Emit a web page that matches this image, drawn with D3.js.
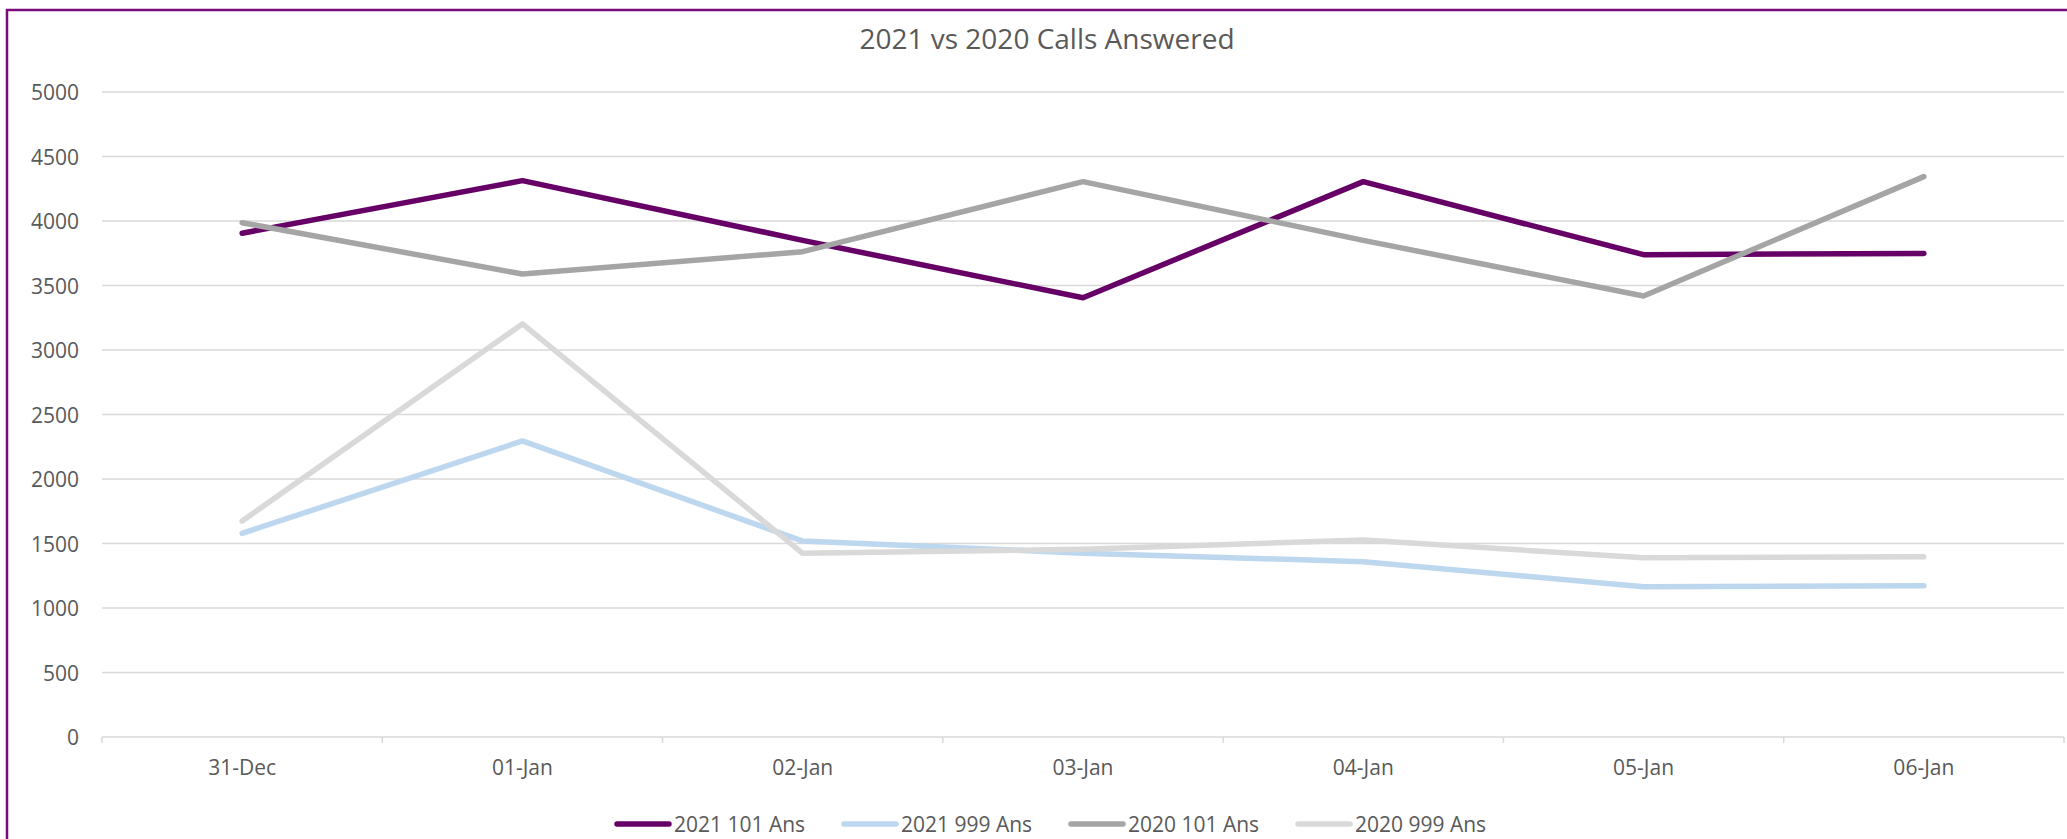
<!DOCTYPE html>
<html>
<head>
<meta charset="utf-8">
<script src="https://cdn.jsdelivr.net/npm/d3@7"></script>
<style>
  html, body { margin: 0; padding: 0; background: #ffffff; overflow: hidden; }
  svg { display: block; }
  text { font-family: "Open Sans", sans-serif; fill: #595959; }
</style>
</head>
<body>
<svg id="chart" width="2067" height="839"></svg>
<script>
const categories = ["31-Dec", "01-Jan", "02-Jan", "03-Jan", "04-Jan", "05-Jan", "06-Jan"];
const seriesNames = ["2021 101 Ans", "2021 999 Ans", "2020 101 Ans", "2020 999 Ans"];
const s2021_101 = [3905, 4313, 3850, 3405, 4305, 3739, 3749];
const s2021_999 = [1579, 2295, 1519, 1425, 1359, 1165, 1173];
const s2020_101 = [3987, 3589, 3762, 4305, 3850, 3419, 4344];
const s2020_999 = [1674, 3202, 1424, 1455, 1527, 1390, 1398];
const yTicks = [0, 500, 1000, 1500, 2000, 2500, 3000, 3500, 4000, 4500, 5000];
const colors = ["#660066", "#BDD7EE", "#A5A5A5", "#D9D9D9"];
const title = "2021 vs 2020 Calls Answered";

const seriesValues = [s2021_101, s2021_999, s2020_101, s2020_999];
const svg = d3.select("#chart");

// outer border
svg.append("rect")
  .attr("x", 7).attr("y", 10)
  .attr("width", 2200).attr("height", 1000)
  .attr("fill", "#ffffff")
  .attr("stroke", "#7a0a7a").attr("stroke-width", 2.5);

const plotLeft = 102, plotRight = 2064, plotTop = 92, plotBottom = 737;

const x = d3.scaleBand().domain(categories).range([plotLeft, plotRight]).padding(0);
const y = d3.scaleLinear().domain([0, 5000]).range([plotBottom, plotTop]);

// gridlines
svg.append("g").selectAll("line").data(yTicks.filter(d => d > 0)).join("line")
  .attr("x1", plotLeft).attr("x2", plotRight)
  .attr("y1", d => y(d)).attr("y2", d => y(d))
  .attr("stroke", "#D9D9D9").attr("stroke-width", 1.5);

// y axis labels
const yAxis = d3.axisLeft(y).tickValues(yTicks).tickSize(0).tickPadding(0).tickFormat(d3.format("d"));
const yg = svg.append("g").attr("transform", `translate(79,0)`).call(yAxis);
yg.select(".domain").remove();
yg.selectAll("text").style("font-size", "21px").attr("fill", "#595959")
  .style("font-family", "'Open Sans', sans-serif").attr("dy", "0.36em");

// x axis
const xAxis = d3.axisBottom(x).tickSize(0).tickPadding(0);
const xg = svg.append("g").attr("transform", `translate(0,${plotBottom})`).call(xAxis);
xg.select(".domain").attr("stroke", "#D9D9D9").attr("stroke-width", 1.5)
  .attr("d", `M${plotLeft},0H${plotRight}`);
xg.selectAll("text").style("font-size", "21px").attr("fill", "#595959")
  .style("font-family", "'Open Sans', sans-serif").attr("y", 38).attr("dy", 0);
const bounds = categories.map(c => x(c)).concat([x(categories[categories.length - 1]) + x.bandwidth()]);
xg.append("g").selectAll("line").data(bounds).join("line")
  .attr("x1", d => d).attr("x2", d => d)
  .attr("y1", 0).attr("y2", 6)
  .attr("stroke", "#D9D9D9").attr("stroke-width", 1.5);

// lines
const line = d3.line()
  .x((d, i) => x(categories[i]) + x.bandwidth() / 2)
  .y(d => y(d));

seriesValues.forEach((vals, k) => {
  svg.append("path")
    .datum(vals)
    .attr("d", line)
    .attr("fill", "none")
    .attr("stroke", colors[k])
    .attr("stroke-width", 5.5)
    .attr("stroke-linecap", "round")
    .attr("stroke-linejoin", "round");
});

// title
svg.append("text")
  .attr("x", 1047).attr("y", 49)
  .attr("text-anchor", "middle")
  .style("font-size", "28px")
  .text(title);

// legend
const legendX0 = 615, legendStep = 227, legendY = 824;
const lg = svg.append("g");
seriesNames.forEach((name, k) => {
  const gx = legendX0 + k * legendStep;
  lg.append("line")
    .attr("x1", gx + 2).attr("x2", gx + 54)
    .attr("y1", legendY).attr("y2", legendY)
    .attr("stroke", colors[k]).attr("stroke-width", 5.5)
    .attr("stroke-linecap", "round");
  lg.append("text")
    .attr("x", gx + 59).attr("y", legendY + 8)
    .style("font-size", "21px")
    .text(name);
});
</script>
</body>
</html>
